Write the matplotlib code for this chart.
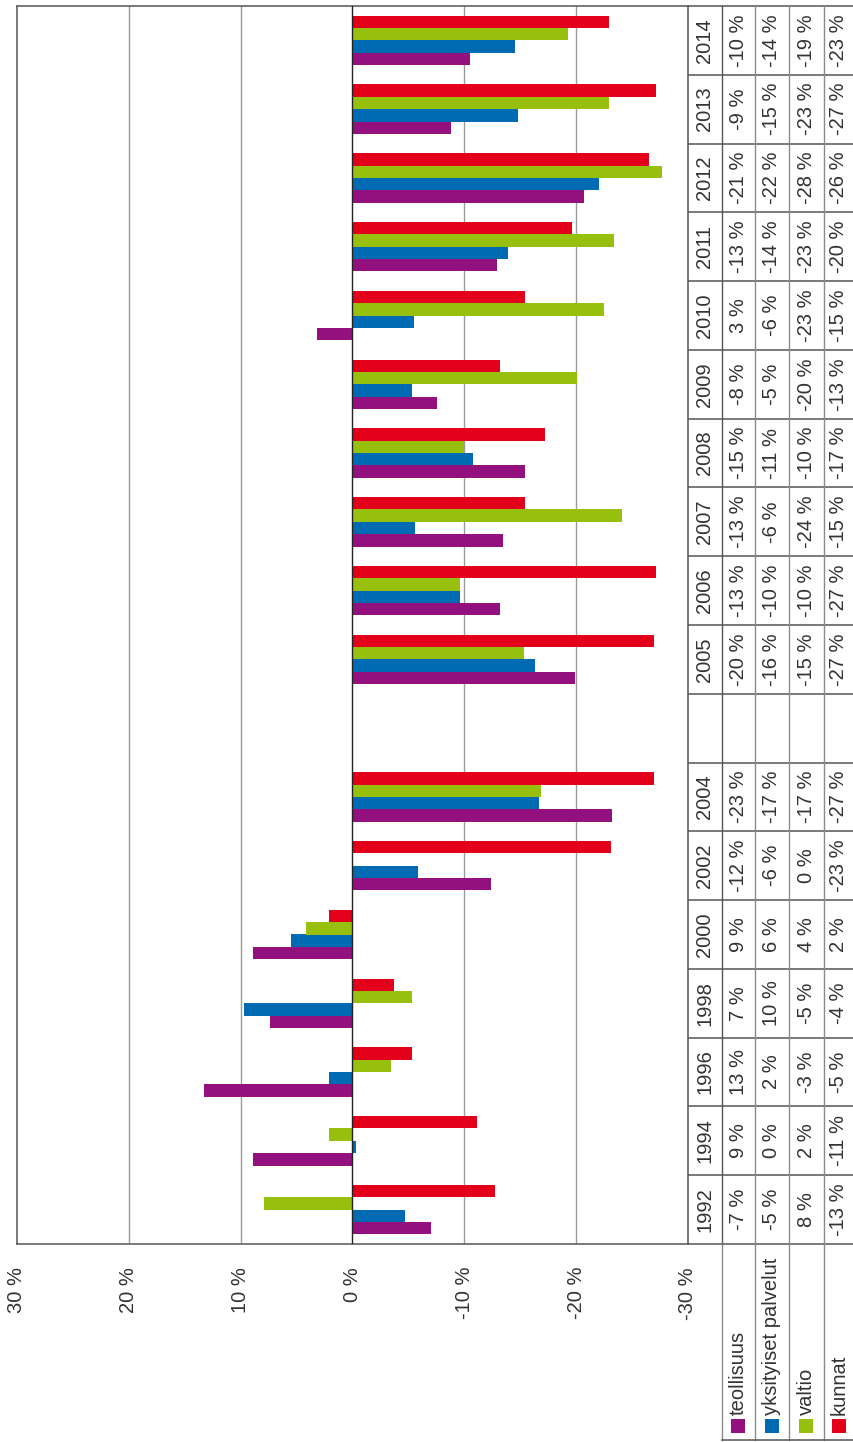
import numpy as np
import matplotlib
matplotlib.use("Agg")
import matplotlib.pyplot as plt
from matplotlib.patches import Rectangle

plt.rcParams['font.family'] = ['Liberation Sans', 'DejaVu Sans']
FW = 'normal'
TXT = '#333333'
FS = 14.5

# ---------------- data (bottom -> top: 1992 ... 2014, '' = empty slot) ----------------
years = ['1992', '1994', '1996', '1998', '2000', '2002', '2004', '',
         '2005', '2006', '2007', '2008', '2009', '2010', '2011', '2012', '2013', '2014']
series = ['teollisuus', 'yksityiset palvelut', 'valtio', 'kunnat']
nan = np.nan
teollisuus = [-7.0, 8.9, 13.3, 7.4, 8.9, -12.4, -23.2, nan,
              -19.9, -13.2, -13.5, -15.4, -7.6, 3.2, -12.9, -20.7, -8.8, -10.5]
yksityiset = [-4.7, -0.3, 2.1, 9.7, 5.5, -5.9, -16.7, nan,
              -16.3, -9.6, -5.6, -10.8, -5.3, -5.5, -13.9, -22.0, -14.8, -14.5]
valtio = [7.9, 2.1, -3.4, -5.3, 4.2, 0.0, -16.9, nan,
          -15.3, -9.6, -24.1, -10.0, -20.1, -22.5, -23.4, -27.7, -22.9, -19.3]
kunnat = [-12.7, -11.1, -5.3, -3.7, 2.1, -23.1, -27.0, nan,
          -27.0, -27.1, -15.4, -17.2, -13.2, -15.4, -19.6, -26.5, -27.1, -22.9]
# rounded values printed in the data table
teollisuus_tab = [-7, 9, 13, 7, 9, -12, -23, None, -20, -13, -13, -15, -8, 3, -13, -21, -9, -10]
yksityiset_tab = [-5, 0, 2, 10, 6, -6, -17, None, -16, -10, -6, -11, -5, -6, -14, -22, -15, -14]
valtio_tab = [8, 2, -3, -5, 4, 0, -17, None, -15, -10, -24, -10, -20, -23, -23, -28, -23, -19]
kunnat_tab = [-13, -11, -5, -4, 2, -23, -27, None, -27, -27, -15, -17, -13, -15, -20, -26, -27, -23]
xticks = [30, 20, 10, 0, -10, -20, -30]

colors = ['#93117E', '#006AB3', '#97BF0D', '#E2001A']
W, H = 854, 1442
fig = plt.figure(figsize=(W / 100, H / 100), dpi=100)

def frac(x0, y0, x1, y1):
    return [x0 / W, 1 - y1 / H, (x1 - x0) / W, (y1 - y0) / H]

PX_L, PX_R, PX_T, PX_B = 17, 688, 6, 1244
ax = fig.add_axes(frac(PX_L, PX_T, PX_R, PX_B))
n = len(years)
pos = np.arange(n)
h = 0.18
vals = [teollisuus, yksityiset, valtio, kunnat]
for i, (v, c) in enumerate(zip(vals, colors)):
    ax.barh(pos + (i - 1.5) * h, np.array(v, dtype=float), height=h, color=c,
            linewidth=0, zorder=3, label=series[i])
ax.set_xlim(30, -30)
ax.set_ylim(-0.5, n - 0.5)
ax.set_yticks([])
ax.set_xticks(xticks)
ax.set_xticklabels([f'{t} %' for t in xticks], rotation=90, fontsize=FS,
                   fontweight=FW, color=TXT)
ax.tick_params(axis='x', length=0, pad=16.5)
for t in [20, 10, -10, -20]:
    ax.axvline(t, color='#9a9a9a', lw=1.0, zorder=1)
ax.axvline(0, color='#222222', lw=1.0, zorder=4)
for s in ax.spines.values():
    s.set_color('#555555')
    s.set_linewidth(1.1)

# ---------------- data table ----------------
tab = fig.add_axes(frac(PX_R, PX_T, W, PX_B), sharey=ax)
tab.set_xlim(PX_R, W)
tab.axis('off')
col_edges = [688, 722, 755, 789, 824, 854]
for k in range(n + 1):
    tab.plot([col_edges[0], W], [k - 0.5, k - 0.5], color='#555555', lw=1.1,
             clip_on=False, solid_capstyle='butt')
for j, xe in enumerate(col_edges[1:-1]):
    tab.plot([xe, xe], [-0.5, n - 0.5], color='#8a8a8a' if j else '#555555',
             lw=1.0, clip_on=False)
tabs = [teollisuus_tab, yksityiset_tab, valtio_tab, kunnat_tab]
for k in range(n):
    cx = (col_edges[0] + col_edges[1]) / 2
    tab.text(cx, k, years[k], rotation=90, ha='center', va='center',
             fontsize=FS, fontweight=FW, color=TXT)
    for j in range(4):
        v = tabs[j][k]
        if v is None:
            continue
        cx = (col_edges[j + 1] + col_edges[j + 2]) / 2
        tab.text(cx, k, f'{v} %', rotation=90, ha='center', va='center',
                 fontsize=FS, fontweight=FW, color=TXT)

# ---------------- legend cells ----------------
ov = fig.add_axes([0, 0, 1, 1], facecolor='none')
ov.set_xlim(0, W)
ov.set_ylim(H, 0)
ov.axis('off')
for xe in col_edges[1:-1]:
    ov.plot([xe, xe], [PX_B, 1440], color='#8a8a8a', lw=1.0)
ov.plot([722, W], [1440, 1440], color='#555555', lw=1.1)
for j in range(4):
    cx = (col_edges[j + 1] + col_edges[j + 2]) / 2
    ov.add_patch(Rectangle((cx - 7, 1419), 14, 14, color=colors[j], lw=0))
    ov.text(cx, 1415, series[j], rotation=90, ha='center', va='bottom',
            fontsize=FS, fontweight=FW, color=TXT)

fig.savefig('out.png', dpi=100)
